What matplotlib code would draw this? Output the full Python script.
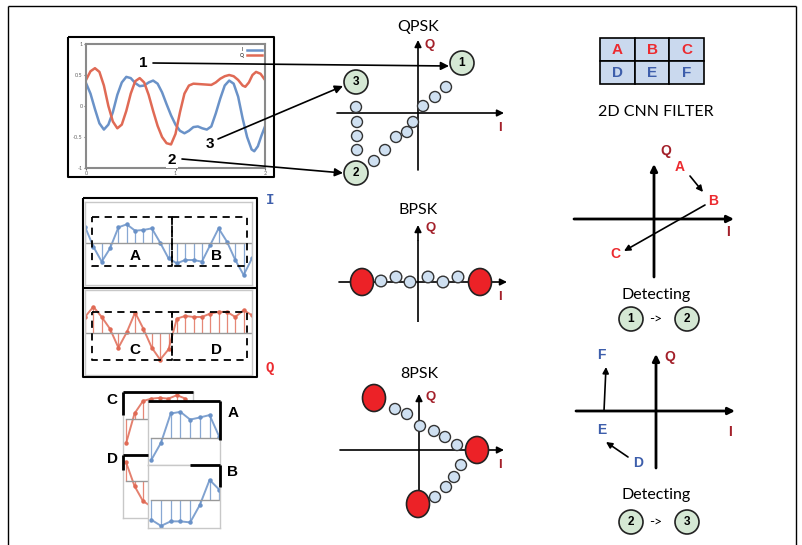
import matplotlib
matplotlib.use('Agg')
import matplotlib.pyplot as plt
from matplotlib.patches import Circle, Ellipse, Rectangle

W, H = 802, 545

# received I/Q waveform (top-left screenshot)
wave_t_i = [0.0, 0.05, 0.1, 0.15, 0.2, 0.25, 0.3, 0.35, 0.4, 0.45, 0.5, 0.55, 0.6,
            0.65, 0.7, 0.75, 0.8, 0.85, 0.9, 0.95, 1.0, 1.05, 1.1, 1.15, 1.2, 1.25,
            1.3, 1.35, 1.4, 1.45, 1.5, 1.55, 1.6, 1.65, 1.7, 1.75, 1.8, 1.85, 1.88,
            1.92, 1.96, 2.0]
wave_i = [0.37, 0.2, -0.05, -0.28, -0.38, -0.3, -0.1, 0.18, 0.38, 0.47, 0.45, 0.37,
          0.32, 0.33, 0.38, 0.41, 0.36, 0.22, 0.03, -0.15, -0.3, -0.4, -0.44, -0.4,
          -0.34, -0.33, -0.36, -0.38, -0.33, -0.12, 0.12, 0.33, 0.41, 0.36, 0.15,
          -0.2, -0.5, -0.7, -0.73, -0.65, -0.48, -0.33]
wave_t_q = [0.0, 0.05, 0.1, 0.15, 0.2, 0.25, 0.3, 0.35, 0.4, 0.45, 0.5, 0.55, 0.6,
            0.65, 0.7, 0.75, 0.8, 0.85, 0.9, 0.95, 1.0, 1.05, 1.1, 1.15, 1.2, 1.3,
            1.4, 1.45, 1.5, 1.55, 1.6, 1.65, 1.7, 1.75, 1.78, 1.82, 1.86, 1.9, 1.95,
            2.0]
wave_q = [0.42, 0.56, 0.61, 0.55, 0.33, 0.0, -0.25, -0.36, -0.3, -0.08, 0.2, 0.4,
          0.45, 0.38, 0.18, -0.08, -0.32, -0.5, -0.6, -0.62, -0.45, -0.1, 0.2, 0.33,
          0.36, 0.35, 0.34, 0.38, 0.44, 0.48, 0.5, 0.48, 0.42, 0.33, 0.31, 0.38, 0.5,
          0.55, 0.52, 0.42]

# sampled I and Q (stem panels)
stem_t = [0.0, 0.1, 0.2, 0.3, 0.4, 0.5, 0.6, 0.7, 0.8, 0.9, 1.0,
          1.1, 1.2, 1.3, 1.4, 1.5, 1.6, 1.7, 1.8, 1.9, 2.0]
stem_i = [1.0, -0.2, -1.1, -0.3, 0.96, 1.14, 0.76, 0.8, 0.9, 0.04, -0.9,
          -1.2, -1.0, -1.0, -1.1, -0.1, 0.9, 0.1, -1.0, -1.9, -0.9]
stem_q = [0.94, 1.54, 0.94, 0.24, -0.86, 0.04, 1.2, 0.24, -0.86, -1.56, -0.96,
          0.84, 1.0, 0.94, 0.94, 1.14, 1.24, 1.24, 0.94, 1.34, 1.04]

# stacked crops A, B, C, D
crop_c = [-0.94, 0.19, 0.66, 0.75, 0.78, 0.75, 0.88, 0.75]
crop_d = [0.69, -0.19, -0.75, -0.95, -1.0, -0.9, -0.7, -0.5]
crop_a = [-0.81, -0.16, 0.94, 1.0, 0.71, 0.79, 0.88, 0.06]
crop_b = [-0.75, -0.98, -0.81, -0.81, -0.85, -0.19, 0.75, 0.38]

# constellation points, pixel offsets (I, Q) from each origin
qpsk_big_i = [44, -62, -62]
qpsk_big_q = [50, 31, -60]
qpsk_big_lbl = ['1', '3', '2']
qpsk_i = [-62, -61, -61, -61, -44, -33, -22, -11, -5, 5, 17, 28]
qpsk_q = [6, -9, -23, -37, -48, -37, -24, -19, -9, 7, 16, 26]
bpsk_big_i = [-56, 62]
bpsk_big_q = [0, 0]
bpsk_i = [-37, -22, -8, 10, 25, 40]
bpsk_q = [1, 5, 0, 5, 0, 5]
psk8_big_i = [-45, 58, -1]
psk8_big_q = [52, 0, -54]
psk8_i = [-24, -12, 1, 15, 26, 38, 42, 35, 27, 16]
psk8_q = [41, 36, 24, 19, 13, 5, -15, -27, -37, -47]

filter_top = ['A', 'B', 'C']
filter_bot = ['D', 'E', 'F']

BLUE = '#6a92c8'
RED = '#e06a55'
DRED = '#a3202a'
LRED = '#ec2a2f'
LBLUE = '#3d5eab'
GREEN = '#d5e8d4'
SBLUE = '#cfe0f1'
BIGRED = '#ec2227'

plt.rcParams['font.family'] = ['Lato', 'DejaVu Sans']

fig = plt.figure(figsize=(W / 100, H / 100), dpi=100)
ax = fig.add_axes([0, 0, 1, 1])
ax.set_xlim(0, W)
ax.set_ylim(H, 0)
ax.axis('off')
ax.set_zorder(10)
ax.patch.set_visible(False)


def inset(x0, y0, x1, y1):
    return fig.add_axes([x0 / W, 1 - y1 / H, (x1 - x0) / W, (y1 - y0) / H])


def arrow(x0, y0, x1, y1, lw=1.2, ms=12):
    ax.annotate('', xy=(x1, y1), xytext=(x0, y0),
                arrowprops=dict(arrowstyle='-|>', color='black', lw=lw,
                                mutation_scale=ms, shrinkA=0, shrinkB=0))


def line(xs, ys, lw=1.0, color='black', ls='-'):
    ax.plot(xs, ys, color=color, lw=lw, ls=ls, solid_capstyle='butt')


def bold(x, y, s, size=11, color='black', **kw):
    ax.text(x, y, s, fontsize=size, color=color, fontweight='bold',
            family='Liberation Sans', ha='center', va='center', **kw)


def numcircle(x, y, s, r=12):
    ax.add_patch(Circle((x, y), r, fc=GREEN, ec='#222', lw=1.2, zorder=4))
    bold(x, y, s, size=8.5, zorder=5)


# outer frame
line([8, 8], [6, 545], lw=1)
line([8, 796], [6, 6], lw=1)
line([796, 796], [6, 545], lw=1)

# ---------- top-left waveform ----------
line([68, 274, 274, 68, 68], [37, 37, 177, 177, 37], lw=1.5)
wa = inset(86, 44, 265, 168)
wa.plot(wave_t_i, wave_i, color=BLUE, lw=1.8, label='I')
wa.plot(wave_t_q, wave_q, color=RED, lw=1.8, label='Q')
wa.set_xlim(0, 2)
wa.set_ylim(-1, 1)
wa.set_xticks([0, 1, 2])
wa.set_yticks([-1, -0.5, 0, 0.5, 1])
wa.set_yticklabels(['-1', '-0.5', '0', '0.5', '1'])
wa.tick_params(labelsize=4, colors='#666', length=1.5, pad=1)
for s in wa.spines.values():
    s.set_color('#8a8a8a')
    s.set_linewidth(1.5)
wa.legend(fontsize=3.5, frameon=False, loc='upper right', markerfirst=False,
          handlelength=3, borderpad=0.2, labelspacing=0.1)

box = dict(fc='white', ec='none', pad=1)
bold(143, 63, '1', size=11, bbox=box)
bold(210, 144, '3', size=11)
bold(172, 160, '2', size=11, bbox=box)
arrow(153, 63, 449, 66)
arrow(218, 139, 343, 86)
arrow(182, 159, 343, 173)

# ---------- QPSK ----------
ox, oy = 418, 113
ax.text(ox, 27, 'QPSK', fontsize=11.5, ha='center', va='center')
arrow(337, oy, 504, oy, lw=1.2, ms=10)
arrow(ox, 170, ox, 40, lw=1.2, ms=10)
bold(430, 45, 'Q', size=9.5, color=DRED)
bold(500, 128, 'I', size=9.5, color=DRED)
for i, q in zip(qpsk_i, qpsk_q):
    ax.add_patch(Circle((ox + i, oy - q), 5.5, fc=SBLUE, ec='#333', lw=1, zorder=3))
for i, q, s in zip(qpsk_big_i, qpsk_big_q, qpsk_big_lbl):
    numcircle(ox + i, oy - q, s)

# ---------- BPSK ----------
ox, oy = 418, 282
ax.text(ox, 210, 'BPSK', fontsize=11.5, ha='center', va='center')
arrow(339, oy, 507, oy, lw=1.2, ms=10)
line([ox, ox], [322, 240], lw=1.2)
arrow(ox, 240, ox, 225, lw=1.2, ms=10)
bold(431, 228, 'Q', size=9.5, color=DRED)
bold(500, 297, 'I', size=9.5, color=DRED)
for i, q in zip(bpsk_i, bpsk_q):
    ax.add_patch(Circle((ox + i, oy - q), 5.8, fc=SBLUE, ec='#333', lw=1, zorder=3))
for i, q in zip(bpsk_big_i, bpsk_big_q):
    ax.add_patch(Ellipse((ox + i, oy - q), 23, 27, fc=BIGRED, ec='#222', lw=1.2, zorder=4))

# ---------- 8PSK ----------
ox, oy = 419, 450
ax.text(ox, 374, '8PSK', fontsize=11.5, ha='center', va='center')
arrow(340, oy, 504, oy, lw=1.2, ms=10)
arrow(ox, 505, ox, 394, lw=1.2, ms=10)
bold(431, 397, 'Q', size=9.5, color=DRED)
bold(500, 465, 'I', size=9.5, color=DRED)
for i, q in zip(psk8_i, psk8_q):
    ax.add_patch(Circle((ox + i, oy - q), 5.5, fc=SBLUE, ec='#333', lw=1, zorder=3))
for i, q in zip(psk8_big_i, psk8_big_q):
    ax.add_patch(Ellipse((ox + i, oy - q), 23, 27, fc=BIGRED, ec='#222', lw=1.2, zorder=4))

# ---------- 2D CNN filter ----------
cw, ch = 34.7, 23
for k in range(3):
    for r, (labels, col) in enumerate([(filter_top, LRED), (filter_bot, LBLUE)]):
        x0 = 600 + k * cw
        y0 = 38 + r * ch
        ax.add_patch(Rectangle((x0, y0), cw, ch, fc='#cad9ee', ec='black', lw=1.2))
        bold(x0 + cw / 2, y0 + ch / 2 + 0.5, labels[k], size=11, color=col)
ax.text(656, 112, '2D CNN FILTER', fontsize=11.5, ha='center', va='center')

# right diagram 1
arrow(574, 219, 734, 219, lw=2, ms=10)
arrow(654, 277, 654, 164, lw=2, ms=10)
bold(666, 151, 'Q', size=10, color=DRED)
bold(728, 232, 'I', size=10, color=DRED)
bold(680, 167, 'A', size=10, color=LRED)
bold(713, 201, 'B', size=10, color=LRED)
bold(615, 254, 'C', size=10, color=LRED)
arrow(690, 176, 703, 192, lw=1.2, ms=9)
arrow(705, 205, 624, 251, lw=1.2, ms=9)
ax.text(656, 295, 'Detecting', fontsize=11.5, ha='center', va='center')
numcircle(631, 319, '1')
ax.text(656, 319, '->', fontsize=10, ha='center', va='center')
numcircle(687, 319, '2')

# right diagram 2
arrow(576, 411, 735, 411, lw=2, ms=10)
arrow(656, 468, 656, 354, lw=2, ms=10)
bold(670, 357, 'Q', size=10, color=DRED)
bold(730, 432, 'I', size=10, color=DRED)
bold(601, 355, 'F', size=10, color=LBLUE)
bold(602, 430, 'E', size=10, color=LBLUE)
bold(638, 463, 'D', size=10, color=LBLUE)
arrow(604, 411, 606, 367, lw=1.2, ms=9)
arrow(628, 457, 606, 442, lw=1.2, ms=9)
ax.text(656, 495, 'Detecting', fontsize=11.5, ha='center', va='center')
numcircle(631, 522, '2')
ax.text(656, 522, '->', fontsize=10, ha='center', va='center')
numcircle(687, 522, '3')


# ---------- stem panels ----------
def stem_panel(a, t, v, col, ylim, xlim):
    a.plot(t, v, color=col, lw=1.4, alpha=0.85)
    ml, sl, bl = a.stem(t, v, linefmt='-', markerfmt='o', basefmt='-')
    plt.setp(sl, color=col, lw=0.9, alpha=0.8)
    plt.setp(ml, color=col, markersize=2.2)
    plt.setp(bl, color='#999', lw=1)
    a.set_xlim(*xlim)
    a.set_ylim(*ylim)
    a.set_xticks([])
    a.set_yticks([])
    for s in a.spines.values():
        s.set_color('#c8c8c8')
        s.set_linewidth(1)


line([83, 257, 257, 83, 83], [198, 198, 377, 377, 198], lw=1.5)
line([83, 257], [288, 288], lw=1.5)
sa = inset(85, 202, 252, 285)
stem_panel(sa, stem_t, stem_i, BLUE, (-2.5, 2.48), (0, 2.0))
sb = inset(85, 290, 252, 375)
stem_panel(sb, stem_t, stem_q, RED, (-2.46, 2.52), (0, 2.0))
for x0, x1, y0, y1 in [(92, 172, 217, 266), (172, 247, 217, 266),
                       (92, 172, 312, 360), (172, 247, 312, 360)]:
    line([x0, x1, x1, x0, x0], [y0, y0, y1, y1, y0], lw=1.3, ls=(0, (4, 3)))
bold(135, 256, 'A', size=11)
bold(216, 256, 'B', size=11)
bold(135, 350, 'C', size=11)
bold(216, 350, 'D', size=11)
ax.text(270, 200, 'I', fontsize=10, color=LBLUE, fontweight='bold',
        family='Liberation Mono', ha='center', va='center')
ax.text(270, 368, 'Q', fontsize=10, color=LRED, fontweight='bold',
        family='Liberation Mono', ha='center', va='center')

# ---------- stacked crops ----------
idx = list(range(8))
cc = inset(123, 392, 193, 455)
stem_panel(cc, idx, crop_c, RED, (-1.375, 1.0), (-0.36, 7.9))
cd = inset(123, 455, 193, 518)
stem_panel(cd, idx, crop_d, RED, (-1.375, 0.96), (-0.36, 7.9))
ca = inset(148, 401, 220, 465)
stem_panel(ca, idx, crop_a, BLUE, (-1.0, 1.41), (-0.34, 7.07))
cb = inset(148, 465, 220, 528)
stem_panel(cb, idx, crop_b, BLUE, (-1.06, 1.31), (-0.34, 7.07))
line([123, 193], [392, 392], lw=2)
line([123, 123], [392, 415], lw=2)
line([123, 148], [455, 455], lw=2)
line([123, 123], [455, 470], lw=2)
line([148, 220], [401, 401], lw=2)
line([220, 220], [401, 440], lw=2)
line([190, 220], [465, 465], lw=2)
line([220, 220], [465, 487], lw=2)
bold(112, 400, 'C', size=11)
bold(233, 413, 'A', size=11)
bold(112, 459, 'D', size=11)
bold(233, 472, 'B', size=11)

fig.savefig('out.png', dpi=100)
